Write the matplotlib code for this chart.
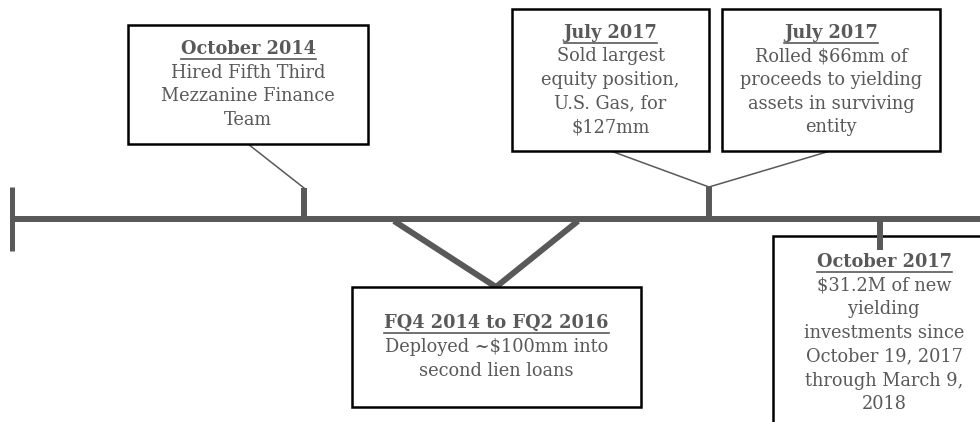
import matplotlib
matplotlib.use("Agg")
import matplotlib.pyplot as plt
from matplotlib.patches import Rectangle

# event texts
titles = ["October 2014", "FQ4 2014 to FQ2 2016", "July 2017", "July 2017", "October 2017"]
bodies = [
    "Hired Fifth Third\nMezzanine Finance\nTeam",
    "Deployed ~$100mm into\nsecond lien loans",
    "Sold largest\nequity position,\nU.S. Gas, for\n$127mm",
    "Rolled $66mm of\nproceeds to yielding\nassets in surviving\nentity",
    "$31.2M of new\nyielding\ninvestments since\nOctober 19, 2017\nthrough March 9,\n2018",
]

# box layout in pixel coords (left, top, right, bottom)
boxes = [(128, 25, 368, 144), (352, 287, 641, 407), (512, 9, 709, 151),
         (722, 9, 940, 151), (773, 236, 995, 440)]
text_top = [None, None, None, None, 262]

GRAY = "#595959"
LINE_Y = 219
FONT = "DejaVu Serif"
FS = 12.8
STEP = 23.7

fig = plt.figure(figsize=(9.8, 4.22), dpi=100)
ax = fig.add_axes([0, 0, 1, 1])
ax.set_xlim(0, 980)
ax.set_ylim(422, 0)
ax.axis("off")

thick = 4.3
thin = 1.1

# main timeline and left end tick
ax.plot([12, 985], [LINE_Y, LINE_Y], color=GRAY, lw=thick, solid_capstyle="butt", zorder=3)
ax.plot([12, 12], [187, 251], color=GRAY, lw=3.6, solid_capstyle="butt", zorder=3)

# connectors
ax.plot([248, 304], [144, 188], color=GRAY, lw=thin, zorder=2)
ax.plot([304, 304], [188, LINE_Y], color=GRAY, lw=thick, solid_capstyle="butt", zorder=2)
ax.plot([394, 496, 578], [LINE_Y + 2, 287, LINE_Y + 2], color=GRAY, lw=thick,
        solid_capstyle="butt", zorder=2)
ax.plot([611, 709, 830], [151, 187, 151], color=GRAY, lw=thin, zorder=2)
ax.plot([709, 709], [187, LINE_Y], color=GRAY, lw=thick, solid_capstyle="butt", zorder=2)
ax.plot([880, 880], [LINE_Y, 250], color=GRAY, lw=thick, solid_capstyle="butt", zorder=5)

fig.canvas.draw()
renderer = fig.canvas.get_renderer()
inv = ax.transData.inverted()

for i, (l, t, r, b) in enumerate(boxes):
    ax.add_patch(Rectangle((l, t), r - l, b - t, facecolor="white",
                           edgecolor="black", lw=1.8, zorder=4))
    lines = bodies[i].split("\n")
    n = len(lines) + 1
    cx = (l + r) / 2
    if text_top[i] is None:
        y0 = (t + b) / 2 - (n - 1) * STEP / 2
    else:
        y0 = text_top[i]
    tt = ax.text(cx, y0, titles[i], ha="center", va="center", fontsize=FS,
                 fontweight="bold", family=FONT, color=GRAY, zorder=6)
    for k, line in enumerate(lines):
        ax.text(cx, y0 + (k + 1) * STEP, line, ha="center", va="center",
                fontsize=FS, family=FONT, color=GRAY, zorder=6)
    # underline the title
    fig.canvas.draw()
    bb = tt.get_window_extent(renderer)
    (x1, _), (x2, _) = inv.transform([(bb.x0, bb.y0), (bb.x1, bb.y0)])
    ax.plot([x1, x2], [y0 + 10, y0 + 10], color=GRAY, lw=1.2, zorder=6)

fig.savefig("out.png", dpi=100)
